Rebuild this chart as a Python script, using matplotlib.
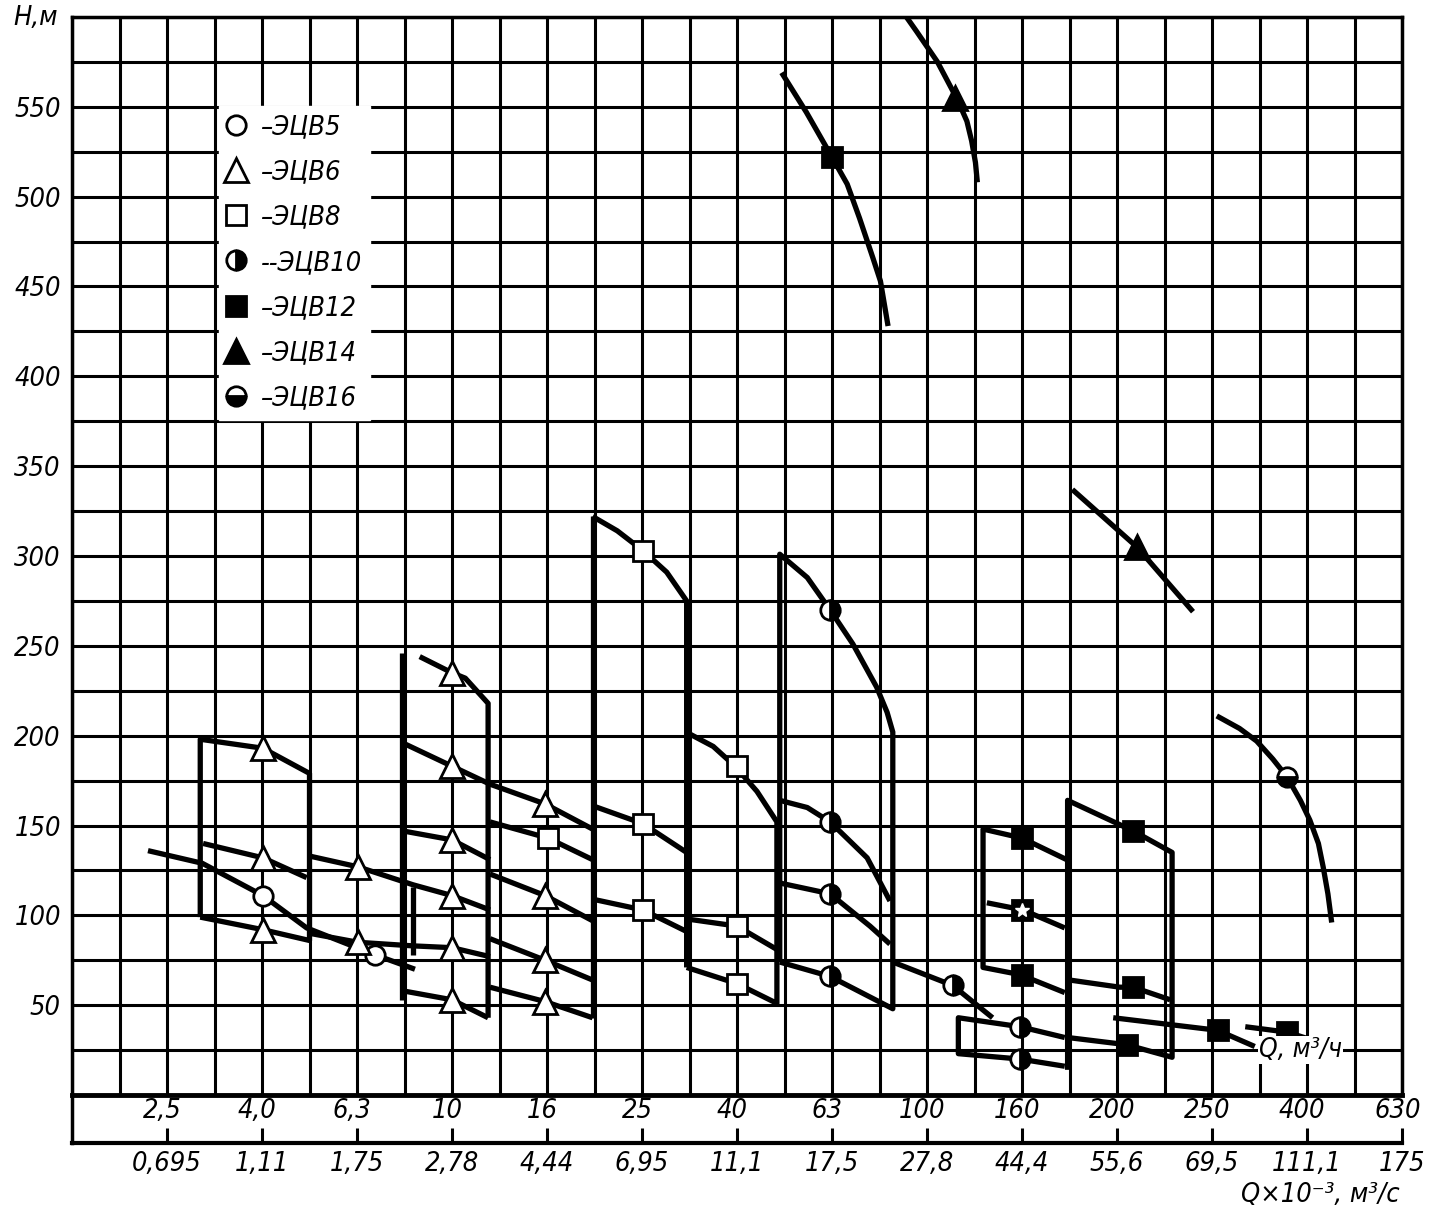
import numpy as np
import matplotlib
matplotlib.use("Agg")
import matplotlib.pyplot as plt
from matplotlib.lines import Line2D

FONT = ["Liberation Sans Narrow", "DejaVu Sans"]
plt.rcParams["font.family"] = FONT
plt.rcParams["font.style"] = "italic"
plt.rcParams["font.stretch"] = "condensed"

# ---------------- axis data ----------------
# x is the position along the (non-uniform) flow axis: 0 -> 2.5 m3/h, 1 -> 4.0, ...
q_m3h = ["2,5", "4,0", "6,3", "10", "16", "25", "40", "63", "100", "160", "200", "250", "400", "630"]
q_m3s = ["0,695", "1,11", "1,75", "2,78", "4,44", "6,95", "11,1", "17,5", "27,8", "44,4", "55,6", "69,5", "111,1", "175"]
h_labels = [50, 100, 150, 200, 250, 300, 350, 400, 450, 500, 550]

# ---------------- curves (x position, H in m) ----------------
# ЭЦВ5
evc5_curves = [
    ([-0.20, 0.37, 1.01, 1.47, 2.19, 2.61], [136, 129, 111, 93, 78, 70]),
]
evc5_mx = [1.01, 2.19]
evc5_mh = [111, 78]

# ЭЦВ6
evc6_curves = [
    ([0.35, 0.35, 1.01, 1.50, 1.50, 1.01, 0.35], [99, 198, 193, 179, 86, 92, 99]),
    ([0.38, 1.01, 1.47], [140, 132, 121]),
    ([1.50, 2.01, 2.59, 3.00, 3.40], [133, 127, 117, 111, 103]),
    ([1.50, 2.01, 2.59, 3.00, 3.40], [90, 85, 83, 82, 77]),
    ([2.59, 2.59], [116, 78]),
    ([2.47, 2.47], [246, 53]),
    ([2.66, 3.00, 3.14, 3.38, 3.38], [244, 235, 232, 218, 43]),
    ([2.48, 3.00, 3.40, 3.98, 4.48], [196, 183, 173, 162, 148]),
    ([2.48, 3.00, 3.40], [147, 142, 131]),
    ([2.48, 3.00, 3.38], [58, 53, 43]),
    ([3.40, 3.98, 4.48], [123, 111, 97]),
    ([3.40, 3.98, 4.48], [87, 75, 64]),
    ([3.40, 3.98, 4.48], [60, 52, 43]),
]
evc6_mx = [1.01, 1.01, 1.01, 2.01, 2.01, 3.0, 3.0, 3.0, 3.0, 3.0, 3.0, 3.98, 3.98, 3.98, 3.98]
evc6_mh = [193, 132, 92, 127, 85, 235, 183, 142, 111, 82, 53, 162, 111, 75, 52]

# ЭЦВ8
evc8_curves = [
    ([3.40, 4.01, 4.48], [152, 143, 131]),
    ([4.48, 4.48], [322, 43]),
    ([4.48, 4.74, 5.01, 5.26, 5.47, 5.47], [322, 314, 303, 291, 275, 71]),
    ([4.48, 5.01, 5.47], [161, 151, 135]),
    ([4.48, 5.01, 5.47], [109, 103, 91]),
    ([5.50, 5.75, 5.98, 6.21, 6.42, 6.42, 6.00, 5.47], [201, 194, 183, 169, 152, 51, 62, 71]),
    ([5.47, 6.00, 6.42], [98, 94, 81]),
]
evc8_mx = [4.01, 5.01, 5.01, 5.01, 6.0, 6.0, 6.0]
evc8_mh = [143, 303, 151, 103, 183, 94, 62]

# ЭЦВ10
evc10_curves = [
    ([6.45, 6.45, 6.74, 6.98, 7.22, 7.47, 7.58, 7.64, 7.64, 6.98, 6.45],
     [74, 301, 288, 270, 251, 227, 213, 202, 48, 66, 74]),
    ([6.45, 6.74, 6.98, 7.37, 7.61], [164, 160, 152, 132, 108]),
    ([6.45, 6.98, 7.40, 7.61], [118, 112, 94, 84]),
    ([7.64, 8.27, 8.69], [74, 61, 43]),
    ([9.45, 8.98, 8.33, 8.33, 8.98, 9.45], [32, 38, 43, 23, 20, 16]),
]
evc10_mx = [6.98, 6.98, 6.98, 6.98, 8.27, 8.98, 8.98]
evc10_mh = [270, 152, 112, 66, 61, 38, 20]

# ЭЦВ12
evc12_curves = [
    ([6.47, 6.73, 7.00, 7.16, 7.29, 7.43, 7.51, 7.59], [569, 547, 522, 507, 488, 466, 453, 428]),
    ([9.45, 8.98, 8.59, 8.59, 9.00, 9.47], [57, 67, 71, 148, 143, 131]),
    ([8.63, 9.01, 9.45], [107, 103, 93]),
    ([9.48, 9.48, 10.17, 10.58, 10.58, 10.10, 9.48], [14, 164, 147, 135, 21, 28, 32]),
    ([9.50, 10.03, 10.17, 10.56], [64, 60, 60, 53]),
    ([9.96, 11.06, 11.45], [43, 36, 27]),
    ([11.35, 11.79, 12.27], [38, 35, 27]),
]
evc12_mx = [7.0, 9.0, 9.0, 9.0, 10.17, 10.17, 10.10, 11.06, 11.79]
evc12_mh = [522, 143, 103, 67, 147, 60, 28, 36, 35]
evc12_star_x = [9.0]
evc12_star_h = [103]

# ЭЦВ14
evc14_curves = [
    ([7.77, 7.89, 8.11, 8.32, 8.42, 8.47, 8.51, 8.53], [601, 592, 575, 554, 542, 531, 519, 508]),
    ([9.53, 10.21, 10.80], [337, 305, 269]),
]
evc14_mx = [8.29, 10.21]
evc14_mh = [555, 305]

# ЭЦВ16
evc16_curves = [
    ([11.05, 11.29, 11.47, 11.64, 11.79, 11.93, 12.03, 12.12, 12.17, 12.22, 12.26],
     [211, 204, 197, 187, 177, 164, 153, 140, 127, 112, 96]),
]
evc16_mx = [11.79]
evc16_mh = [177]

# ---------------- figure ----------------
W, Hpx = 1431, 1215
fig = plt.figure(figsize=(W / 100, Hpx / 100), dpi=100)
L, R = 72 / W, 1402 / W
T, B = 1 - 17 / Hpx, 1 - 1095 / Hpx
ax = fig.add_axes([L, B, R - L, T - B])
ax.set_xlim(-1, 13)
ax.set_ylim(0, 600)
ax.set_xticks(np.arange(-1, 13.01, 0.5))
ax.set_xticklabels([])
yt = np.arange(0, 601, 25)
ax.set_yticks(yt)
ax.set_yticklabels([str(v) if v in h_labels else "" for v in yt], fontsize=19.5)
ax.tick_params(length=0, pad=8)
ax.grid(True, color="black", lw=2.2)
ax.set_axisbelow(True)
for s in ax.spines.values():
    s.set_linewidth(2.5)
ax.spines["bottom"].set_linewidth(3.5)

LW = 3.8
for group in [evc5_curves, evc6_curves, evc8_curves, evc10_curves, evc12_curves, evc14_curves, evc16_curves]:
    for xs, hs in group:
        ax.plot(xs, hs, color="black", lw=LW, solid_capstyle="butt", solid_joinstyle="round", zorder=3)

mk = dict(ls="none", mec="black", mew=2, zorder=5, clip_on=False)
st5 = dict(marker="o", ms=14, mfc="white")
st6 = dict(marker="^", ms=17, mfc="white")
st8 = dict(marker="s", ms=15, mfc="white")
st10 = dict(marker="o", ms=14, mfc="black", fillstyle="right", markerfacecoloralt="white")
st12 = dict(marker="s", ms=15, mfc="black")
st14 = dict(marker="^", ms=17, mfc="black")
st16 = dict(marker="o", ms=14, mfc="black", fillstyle="bottom", markerfacecoloralt="white")

ax.plot(evc5_mx, evc5_mh, **st5, **mk)
ax.plot(evc6_mx, evc6_mh, **st6, **mk)
ax.plot(evc8_mx, evc8_mh, **st8, **mk)
ax.plot(evc10_mx, evc10_mh, **st10, **mk)
ax.plot(evc12_mx, evc12_mh, **st12, **mk)
ax.plot(evc12_star_x, evc12_star_h, ls="none", marker="*", ms=10, color="white", zorder=6)
ax.plot(evc14_mx, evc14_mh, **st14, **mk)
ax.plot(evc16_mx, evc16_mh, **st16, **mk)

# legend
labels = ["–ЭЦВ5", "–ЭЦВ6", "–ЭЦВ8", "--ЭЦВ10", "–ЭЦВ12", "–ЭЦВ14", "–ЭЦВ16"]
styles = [st5, st6, st8, st10, st12, st14, st16]
handles = [Line2D([], [], ls="none", mec="black", mew=2, **s) for s in styles]
leg = ax.legend(handles, labels, loc="upper left",
                bbox_to_anchor=((219 - 72) / 1330, (1095 - 106) / 1078),
                frameon=True, fancybox=False, facecolor="white", edgecolor="white",
                framealpha=1, borderaxespad=0, borderpad=0.3, handlelength=0.65,
                handletextpad=0.6, labelspacing=0.71,
                prop=dict(family=FONT, style="italic", size=19.5, stretch="condensed"))
leg.set_zorder(6)

ax.text(11.93, 25, "Q, м³/ч", ha="center", va="center", fontsize=19, zorder=7,
        bbox=dict(facecolor="white", edgecolor="none", pad=1))

# lower double scale
ax2 = fig.add_axes([L, 1 - 1143 / Hpx, R - L, 48 / Hpx])
ax2.set_xlim(-1, 13)
ax2.set_ylim(0, 1)
ax2.patch.set_alpha(0)
ax2.spines["top"].set_visible(False)
ax2.spines["right"].set_visible(False)
ax2.spines["left"].set_linewidth(2.5)
ax2.spines["bottom"].set_linewidth(3)
ax2.set_yticks([])
ax2.set_xticks(range(len(q_m3s)))
ax2.set_xticklabels(q_m3s, fontsize=19.5)
ax2.tick_params(axis="x", direction="in", length=11, width=2.2, pad=6)
for i, lab in enumerate(q_m3h):
    ax2.text(i - 0.05, 0.66, lab, ha="center", va="center", fontsize=19.5)

fig.text(36 / W, 1 - 18 / Hpx, "Н,м", ha="center", va="center", fontsize=19.5)
fig.text(1400 / W, 1 - 1195 / Hpx, "Q×10⁻³, м³/с", ha="right", va="center", fontsize=19.5)

fig.savefig("out.png", dpi=100, facecolor="white")
